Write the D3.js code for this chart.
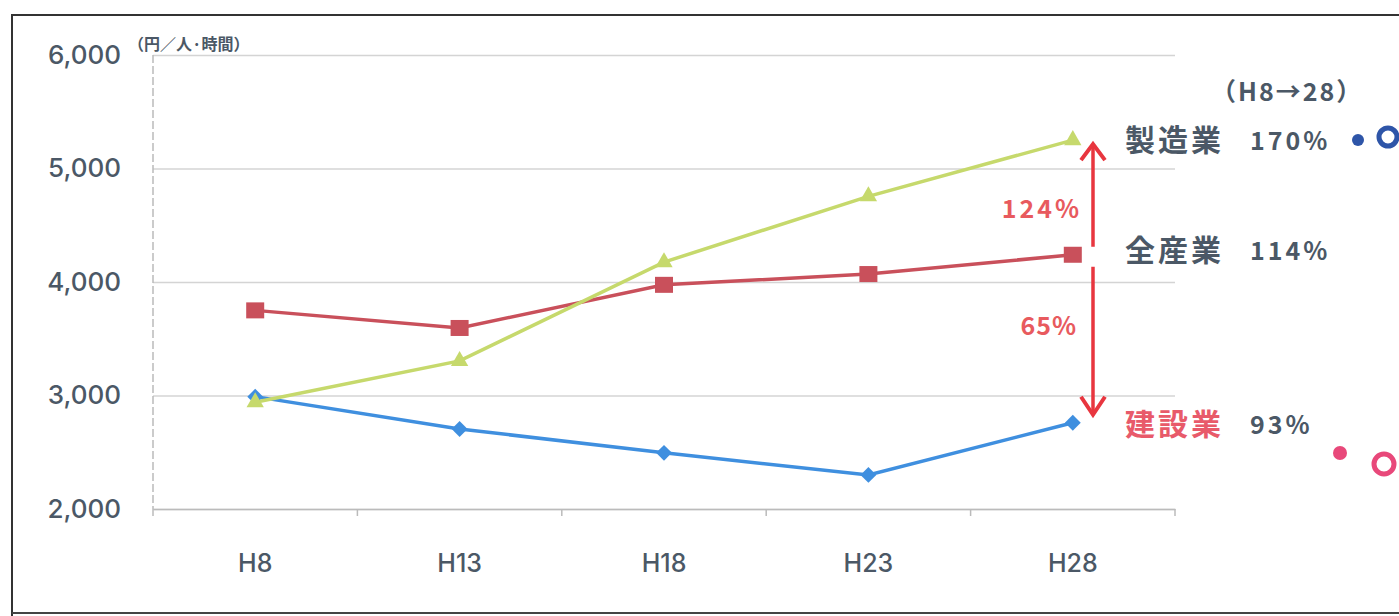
<!DOCTYPE html>
<html>
<head>
<meta charset="utf-8">
<script src="https://cdn.jsdelivr.net/npm/d3@7"></script>
<style>
  body { margin: 0; background: #fff; }
  svg { display: block; font-family: "Noto Sans CJK JP", "Noto Sans", sans-serif; }
</style>
</head>
<body>
<svg width="1399" height="616"></svg>
<script>
const periods = ["H8", "H13", "H18", "H23", "H28"]
const zensangyo = [3750, 3595, 3975, 4070, 4240]
const seizogyo = [2940, 3305, 4175, 4755, 5250]
const kensetsu = [2990, 2705, 2495, 2300, 2760]
const yTicks = [2000, 3000, 4000, 5000, 6000]

const textColor = "#4b5866"
const svg = d3.select("svg")

const xScale = d3.scaleBand().domain(periods).range([153, 1175])
const yScale = d3.scaleLinear().domain([2000, 6000]).range([509, 55])
const cx = d => xScale(d) + xScale.bandwidth() / 2

// outer frame
svg.append("path")
    .attr("d", "M12,616 L12,15 L1399,15")
    .attr("fill", "none")
    .attr("stroke", "#333")
    .attr("stroke-width", 2)
svg.append("line")
    .attr("x1", 12).attr("x2", 1399).attr("y1", 613).attr("y2", 613)
    .attr("stroke", "#444").attr("stroke-width", 2)

// grid + y axis
const yAxis = d3.axisLeft(yScale).tickValues(yTicks).tickFormat(d3.format(",")).tickSize(-(1175 - 153))
svg.append("g")
    .attr("id", "yAxisG")
    .attr("transform", "translate(153,0)")
    .call(yAxis)
d3.select("#yAxisG").selectAll("line")
    .attr("stroke", "#d4d4d4").attr("stroke-width", 1.5)
d3.select("#yAxisG").selectAll("text")
    .attr("x", -32)
    .attr("fill", textColor)
    .style("font-family", "Inter, 'Noto Sans', sans-serif")
    .style("font-size", "26px")
    .style("font-weight", "500")
d3.select("#yAxisG").select("path.domain").style("display", "none")

svg.append("line")
    .attr("x1", 153).attr("x2", 153).attr("y1", yScale(6000)).attr("y2", yScale(2000))
    .attr("stroke", "#bbb").attr("stroke-width", 1.5).attr("stroke-dasharray", "8,3")

// x axis
const xAxis = d3.axisBottom(xScale).tickSize(0)
svg.append("g")
    .attr("id", "xAxisG")
    .attr("transform", `translate(0,${yScale(2000)})`)
    .call(xAxis)
d3.select("#xAxisG").select("path.domain")
    .attr("stroke", "#bbb").attr("stroke-width", 1.5)
d3.select("#xAxisG").selectAll("text")
    .attr("y", 45)
    .attr("fill", textColor)
    .style("font-family", "Inter, 'Noto Sans', sans-serif")
    .style("font-size", "25px")
    .style("font-weight", "500")
svg.append("g")
    .selectAll("line")
    .data(d3.range(periods.length + 1))
    .enter()
    .append("line")
    .attr("x1", i => 153 + i * xScale.step())
    .attr("x2", i => 153 + i * xScale.step())
    .attr("y1", yScale(2000)).attr("y2", yScale(2000) + 7)
    .attr("stroke", "#bbb").attr("stroke-width", 1.5)

svg.append("text")
    .attr("x", 128).attr("y", 50)
    .attr("fill", textColor)
    .style("font-size", "16px").style("font-weight", "bold")
    .text("（円／人·時間）")

// series lines
function addSeries(values, color, width) {
    const line = d3.line()
        .x((d, i) => cx(periods[i]))
        .y(d => yScale(d))
    svg.append("path")
        .attr("d", line(values))
        .attr("fill", "none")
        .attr("stroke", color)
        .attr("stroke-width", width)
}
addSeries(kensetsu, "#3f8fdf", 3.5)
addSeries(zensangyo, "#c9505b", 3.5)
addSeries(seizogyo, "#c6d96c", 3.5)

// markers
svg.append("g").selectAll("path")
    .data(kensetsu).enter().append("path")
    .attr("d", d3.symbol(d3.symbolDiamond2, 160)())
    .attr("transform", (d, i) => `translate(${cx(periods[i])},${yScale(d)})`)
    .attr("fill", "#3f8fdf")
svg.append("g").selectAll("rect")
    .data(zensangyo).enter().append("rect")
    .attr("x", (d, i) => cx(periods[i]) - 9)
    .attr("y", d => yScale(d) - 8)
    .attr("width", 18).attr("height", 16)
    .attr("fill", "#c9505b")
svg.append("g").selectAll("path")
    .data(seizogyo).enter().append("path")
    .attr("d", d3.symbol(d3.symbolTriangle, 130)())
    .attr("transform", (d, i) => `translate(${cx(periods[i])},${yScale(d)})`)
    .attr("fill", "#c6d96c")

// red comparison arrow at H28
const ax = 1093
const arrowRed = "#e8363f"
svg.append("line")
    .attr("x1", ax).attr("x2", ax)
    .attr("y1", yScale(seizogyo[4]) + 6).attr("y2", yScale(zensangyo[4]) - 8)
    .attr("stroke", arrowRed).attr("stroke-width", 3.5)
svg.append("line")
    .attr("x1", ax).attr("x2", ax)
    .attr("y1", yScale(zensangyo[4]) + 12).attr("y2", yScale(kensetsu[4]) - 8)
    .attr("stroke", arrowRed).attr("stroke-width", 3.5)
svg.append("path")
    .attr("d", `M${ax - 12},${yScale(seizogyo[4]) + 20} L${ax},${yScale(seizogyo[4]) + 4} L${ax + 12},${yScale(seizogyo[4]) + 20}`)
    .attr("fill", "none").attr("stroke", arrowRed).attr("stroke-width", 4)
svg.append("path")
    .attr("d", `M${ax - 12},${yScale(kensetsu[4]) - 26} L${ax},${yScale(kensetsu[4]) - 8} L${ax + 12},${yScale(kensetsu[4]) - 26}`)
    .attr("fill", "none").attr("stroke", arrowRed).attr("stroke-width", 4)

svg.append("text")
    .attr("x", 1082).attr("y", 218).attr("text-anchor", "end")
    .attr("fill", "#e85a5e").style("font-size", "25px").style("font-weight", "bold")
    .style("letter-spacing", "3px")
    .text("124%")
svg.append("text")
    .attr("x", 1077).attr("y", 335).attr("text-anchor", "end")
    .attr("fill", "#e85a5e").style("font-size", "25px").style("font-weight", "bold")
    .style("letter-spacing", "1px")
    .text("65%")

// right annotations
svg.append("text")
    .attr("x", 1211).attr("y", 101)
    .attr("fill", textColor).style("font-size", "25px").style("font-weight", "bold")
    .style("letter-spacing", "2px")
    .text("（H8→28）")

function label(name, pct, y, nameColor) {
    svg.append("text")
        .attr("x", 1125).attr("y", y)
        .attr("fill", nameColor).style("font-size", "30px").style("font-weight", "bold")
        .style("letter-spacing", "3px")
        .text(name)
    svg.append("text")
        .attr("x", pct.length > 3 ? 1250 : 1250).attr("y", y - 1)
        .attr("fill", textColor).style("font-size", "25px").style("font-weight", "bold")
        .style("letter-spacing", "3px")
        .text(pct)
}
label("製造業", "170%", 151, textColor)
label("全産業", "114%", 261, textColor)
label("建設業", "93%", 435, "#e85a6a")

svg.append("circle").attr("cx", 1358).attr("cy", 140).attr("r", 6).attr("fill", "#2e55a8")
svg.append("circle").attr("cx", 1388).attr("cy", 137).attr("r", 9)
    .attr("fill", "#fff").attr("stroke", "#2e55a8").attr("stroke-width", 5)
svg.append("circle").attr("cx", 1340).attr("cy", 453).attr("r", 7).attr("fill", "#e8487a")
svg.append("circle").attr("cx", 1384).attr("cy", 464).attr("r", 10)
    .attr("fill", "#fff").attr("stroke", "#e8487a").attr("stroke-width", 5)
</script>
</body>
</html>
